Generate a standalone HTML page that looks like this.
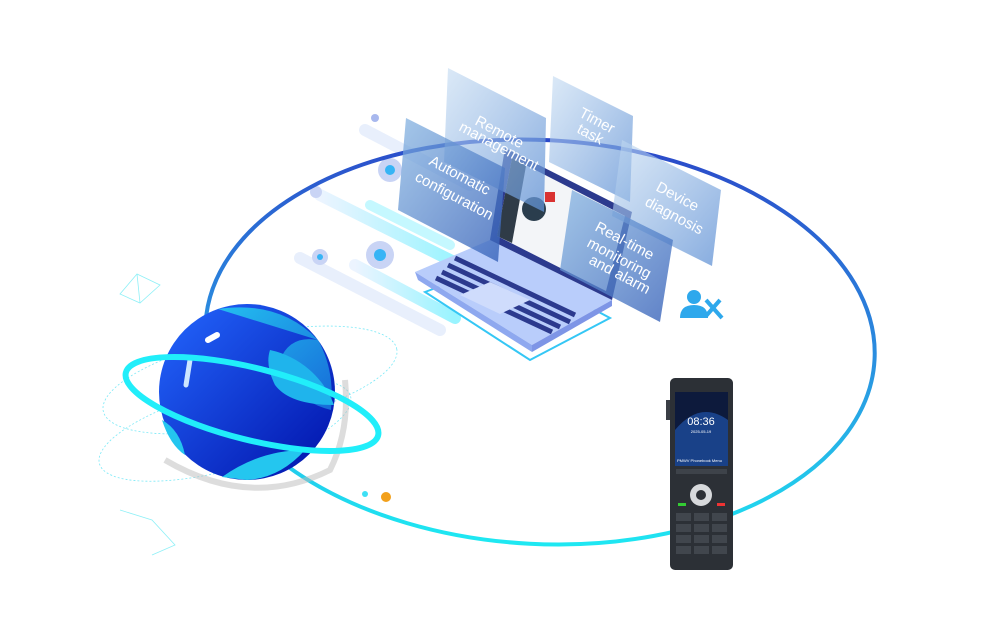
<!DOCTYPE html>
<html><head><meta charset="utf-8"><style>
html,body{margin:0;padding:0;background:#fff;width:1006px;height:628px;overflow:hidden}
svg{display:block}
text{font-family:"Liberation Sans",sans-serif;fill:#fff}
</style></head><body>
<svg width="1006" height="628" viewBox="0 0 1006 628" xmlns="http://www.w3.org/2000/svg">
<defs>
<linearGradient id="ring" x1="0" y1="0" x2="0" y2="1">
<stop offset="0" stop-color="#2b49c9"/><stop offset="0.5" stop-color="#2a8fe0"/><stop offset="1" stop-color="#1ee8f2"/></linearGradient>
<linearGradient id="globe" x1="0" y1="0" x2="1" y2="1">
<stop offset="0" stop-color="#2468ff"/><stop offset="1" stop-color="#0010a8"/></linearGradient>
<linearGradient id="cont" x1="0" y1="0" x2="1" y2="1">
<stop offset="0" stop-color="#25d7f0"/><stop offset="1" stop-color="#1a7de0"/></linearGradient>
<linearGradient id="panel" x1="0" y1="0" x2="1" y2="1">
<stop offset="0" stop-color="#7fb0e0" stop-opacity="0.7"/><stop offset="1" stop-color="#3560b8" stop-opacity="0.8"/></linearGradient>
<linearGradient id="panel2" x1="0" y1="0" x2="1" y2="1">
<stop offset="0" stop-color="#c4dbf2" stop-opacity="0.6"/><stop offset="1" stop-color="#5d8fd4" stop-opacity="0.75"/></linearGradient>
<linearGradient id="stripe" x1="0" y1="0" x2="1" y2="0">
<stop offset="0" stop-color="#eaf3ff"/><stop offset="1" stop-color="#8ef3ff"/></linearGradient>
</defs>

<g stroke-linecap="round" opacity="0.9">
<line x1="365" y1="130" x2="470" y2="185" stroke="#e6eefc" stroke-width="12"/>
<line x1="320" y1="195" x2="460" y2="265" stroke="url(#stripe)" stroke-width="12"/>
<line x1="370" y1="205" x2="450" y2="245" stroke="#bff8ff" stroke-width="10"/>
<line x1="300" y1="258" x2="440" y2="330" stroke="#e6eefc" stroke-width="12"/>
<line x1="355" y1="265" x2="455" y2="318" stroke="url(#stripe)" stroke-width="12"/>
</g>
<circle cx="380" cy="255" r="14" fill="#c9d4f5"/><circle cx="380" cy="255" r="6" fill="#37b4f5"/>
<circle cx="320" cy="257" r="8" fill="#c9d4f5"/><circle cx="320" cy="257" r="3" fill="#37b4f5"/>
<circle cx="316" cy="192" r="6" fill="#c9d4f5"/>
<circle cx="390" cy="170" r="12" fill="#c9d4f5"/><circle cx="390" cy="170" r="5" fill="#37b4f5"/>
<circle cx="375" cy="118" r="4" fill="#a8b8ee"/>

<ellipse cx="540" cy="342" rx="335" ry="202" transform="rotate(3 540 342)" fill="none" stroke="url(#ring)" stroke-width="4"/>

<!-- laptop -->
<polygon points="425,292 505,262 610,318 530,360" fill="none" stroke="#35c7f5" stroke-width="2"/>
<polygon points="415,272 490,240 612,300 532,345" fill="#b9cdfb"/>
<polygon points="415,272 532,345 532,352 418,280" fill="#8ea8ef"/>
<polygon points="532,345 612,300 612,306 532,352" fill="#7e95e6"/>
<polygon points="490,240 612,300 632,212 505,148" fill="#2c3a8e"/>
<polygon points="497,236 606,291 625,216 512,158" fill="#f3f5f8"/>
<polygon points="497,236 512,243 526,166 512,158" fill="#2f3b47"/>
<circle cx="534" cy="209" r="12" fill="#2a3d4d"/>
<rect x="545" y="192" width="10" height="10" fill="#d93232"/>
<g stroke="#2c3a8e" stroke-width="5">
<line x1="455" y1="258" x2="575" y2="315"/><line x1="448" y1="265" x2="570" y2="322"/>
<line x1="442" y1="272" x2="560" y2="327"/><line x1="436" y1="278" x2="552" y2="332"/>
</g>
<polygon points="460,295 490,282 530,300 500,314" fill="#cfdcfc"/>

<polygon points="448,68 546,118 544,212 444,162" fill="url(#panel2)"/>
<polygon points="553,76 633,116 630,202 549,162" fill="url(#panel2)"/>
<polygon points="622,140 721,190 712,266 612,216" fill="url(#panel2)"/>
<polygon points="406,118 505,168 498,262 398,210" fill="url(#panel)"/>
<polygon points="572,190 673,240 660,322 560,270" fill="url(#panel)"/>
<g font-size="15">
<text transform="translate(474,124) rotate(28)">Remote</text>
<text transform="translate(458,130) rotate(28)">management</text>
<text transform="translate(578,116) rotate(28)">Timer</text>
<text transform="translate(576,132) rotate(28)">task</text>
<text transform="translate(655,190) rotate(28)">Device</text>
<text transform="translate(644,205) rotate(28)">diagnosis</text>
<text transform="translate(428,164) rotate(28)">Automatic</text>
<text transform="translate(414,180) rotate(28)">configuration</text>
<text transform="translate(594,230) rotate(28)">Real-time</text>
<text transform="translate(586,246) rotate(28)">monitoring</text>
<text transform="translate(588,263) rotate(28)">and alarm</text>
</g>

<circle cx="694" cy="297" r="7" fill="#2ea8ec"/>
<path d="M680,318 q0,-13 14,-13 q14,0 14,13 z" fill="#2ea8ec"/>
<line x1="706" y1="300" x2="722" y2="318" stroke="#2ea8ec" stroke-width="4"/>
<line x1="720" y1="300" x2="706" y2="316" stroke="#2ea8ec" stroke-width="4"/>

<g stroke="#7be9f7" fill="none" stroke-width="0.8" stroke-dasharray="2 2">
<ellipse cx="250" cy="380" rx="150" ry="45" transform="rotate(-12 250 380)"/>
<ellipse cx="225" cy="430" rx="130" ry="40" transform="rotate(-15 225 430)"/>
</g>
<path d="M165,460 Q250,510 330,470 Q350,430 345,380" fill="none" stroke="#bbb" stroke-width="6" opacity="0.5"/>
<g stroke="#8ef0f7" stroke-width="0.8" fill="none">
<polygon points="137,274 160,285 140,303 120,294"/><line x1="137" y1="274" x2="140" y2="303"/>
<polyline points="120,510 152,520 175,545 152,555"/>
</g>
<circle cx="365" cy="494" r="3" fill="#3ee0f5"/><circle cx="386" cy="497" r="5" fill="#f2a01b"/>

<circle cx="247" cy="392" r="88" fill="url(#globe)"/>
<path d="M218,309 Q280,300 318,340 Q290,335 280,360 Q290,400 331,410 Q335,370 318,340" fill="url(#cont)" opacity="0.8"/>
<path d="M270,350 A88,88 0 0 1 334,405 Q290,405 275,385 Q265,365 270,350z" fill="#1fb4ec"/>
<path d="M222,477 Q260,450 305,450 Q280,478 247,480z" fill="#24c6ef"/>
<path d="M162,420 Q180,430 185,455 Q170,445 162,420z" fill="#24c6ef"/>
<line x1="208" y1="340" x2="217" y2="335" stroke="#fff" stroke-width="6" stroke-linecap="round"/>
<line x1="190" y1="360" x2="186" y2="385" stroke="#cde6ff" stroke-width="5" stroke-linecap="round"/>
<ellipse cx="252" cy="404" rx="130" ry="36" transform="rotate(14 252 404)" fill="none" stroke="#21eefa" stroke-width="6"/>

<rect x="670" y="378" width="63" height="192" rx="5" fill="#2c3036"/>
<rect x="666" y="400" width="4" height="20" fill="#3a3e45"/>
<rect x="675" y="392" width="53" height="74" fill="#0d1a3c"/>
<path d="M675,430 Q700,400 728,420 L728,466 L675,466z" fill="#2053a8" opacity="0.7"/>
<text x="701" y="425" font-size="11" text-anchor="middle">08:36</text>
<text x="701" y="433" font-size="4" text-anchor="middle">2025-05-19</text>
<text x="677" y="462" font-size="4">PMWV  Phonebook  Menu</text>
<rect x="676" y="469" width="51" height="5" fill="#3e434a"/>
<circle cx="701" cy="495" r="11" fill="#d7d9dc"/><circle cx="701" cy="495" r="5" fill="#2c3036"/>
<g fill="#41464d">
<rect x="676" y="513" width="15" height="8"/><rect x="694" y="513" width="15" height="8"/><rect x="712" y="513" width="15" height="8"/>
<rect x="676" y="524" width="15" height="8"/><rect x="694" y="524" width="15" height="8"/><rect x="712" y="524" width="15" height="8"/>
<rect x="676" y="535" width="15" height="8"/><rect x="694" y="535" width="15" height="8"/><rect x="712" y="535" width="15" height="8"/>
<rect x="676" y="546" width="15" height="8"/><rect x="694" y="546" width="15" height="8"/><rect x="712" y="546" width="15" height="8"/>
</g>
<rect x="678" y="503" width="8" height="3" fill="#3c3"/><rect x="717" y="503" width="8" height="3" fill="#e33"/>
</svg>
</body></html>
